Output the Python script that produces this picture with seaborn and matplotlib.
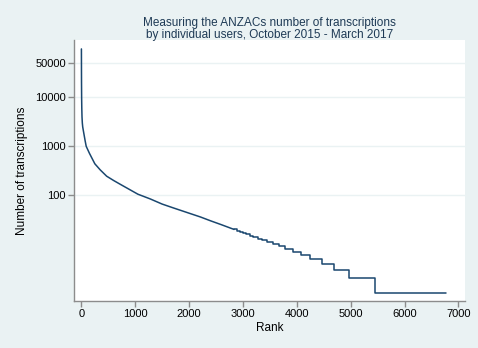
import matplotlib
matplotlib.use("Agg")
import matplotlib.pyplot as plt
import seaborn as sns
import pandas as pd
import numpy as np
from matplotlib.ticker import FixedLocator, FixedFormatter, NullLocator

# Smooth (high-count) part of the rank curve
curve_rank = [1, 2, 3, 5, 8, 12, 18, 25, 40, 70, 90, 150, 250, 350, 470, 600,
              720, 900, 1050, 1280, 1500, 1710, 2000, 2210, 2400, 2600, 2836]
curve_count = [98000, 40000, 20000, 10000, 6000, 4000, 3000, 2500, 2000, 1300,
               1000, 720, 440, 330, 245, 200, 168, 130, 105, 84, 66, 55, 43,
               36, 30, 25, 20]

# Step (low-count) part: rank where each count level starts
step_rank = [2836, 2886, 2939, 2996, 3057, 3123, 3195, 3273, 3358, 3450, 3550,
             3662, 3786, 3929, 4078, 4251, 4468, 4684, 4963, 5459, 6773]
step_count = [20, 19, 18, 17, 16, 15, 14, 13, 12, 11, 10, 9, 8, 7, 6, 5, 4, 3,
              2, 1, 1]

x_ticks = [0, 1000, 2000, 3000, 4000, 5000, 6000, 7000]
y_ticks = [100, 1000, 10000, 50000]
y_tick_labels = ["100", "1000", "10000", "50000"]

title = "Measuring the ANZACs number of transcriptions\nby individual users, October 2015 - March 2017"

sns.set_theme(style="white")
plt.rcParams['font.family'] = ['Liberation Sans', 'DejaVu Sans']

bg = "#EAF2F3"
line_color = "#1a476f"

fig = plt.figure(figsize=(4.78, 3.48), dpi=100, facecolor=bg)
ax = fig.add_axes([0.155, 0.136, 0.818, 0.748])
ax.set_facecolor("white")

df_curve = pd.DataFrame({"rank": curve_rank, "count": curve_count})
df_step = pd.DataFrame({"rank": step_rank, "count": step_count})

sns.lineplot(data=df_curve, x="rank", y="count", ax=ax, color=line_color,
             linewidth=1.1, estimator=None, sort=False)
sns.lineplot(data=df_step, x="rank", y="count", ax=ax, color=line_color,
             linewidth=1.1, estimator=None, sort=False, drawstyle="steps-post")

ax.set_yscale("log")
ax.set_xlim(-135, 7125)
ax.set_ylim(10 ** -0.155, 10 ** 5.166)

ax.xaxis.set_major_locator(FixedLocator(x_ticks))
ax.set_xticklabels([str(t) for t in x_ticks])
ax.yaxis.set_major_locator(FixedLocator(y_ticks))
ax.yaxis.set_major_formatter(FixedFormatter(y_tick_labels))
ax.yaxis.set_minor_locator(NullLocator())

ax.grid(axis="y", color=bg, linewidth=1.0)
ax.grid(axis="x", visible=False)

for s in ["top", "right"]:
    ax.spines[s].set_visible(False)
for s in ["left", "bottom"]:
    ax.spines[s].set_color("#8c8c8c")
    ax.spines[s].set_linewidth(1.0)

ax.tick_params(axis="both", which="major", direction="out", length=4, width=1.0,
               color="#8c8c8c", labelsize=8, labelcolor="black", pad=2,
               left=True, bottom=True)

ax.set_xlabel("Rank", fontsize=8.5, color="black", labelpad=2)
ax.set_ylabel("Number of transcriptions", fontsize=8.5, color="black", labelpad=5)

ax.set_title(title, fontsize=8.5, color="#1e3a55", linespacing=1.0, pad=2)

fig.savefig("out.png", dpi=100, facecolor=bg)
